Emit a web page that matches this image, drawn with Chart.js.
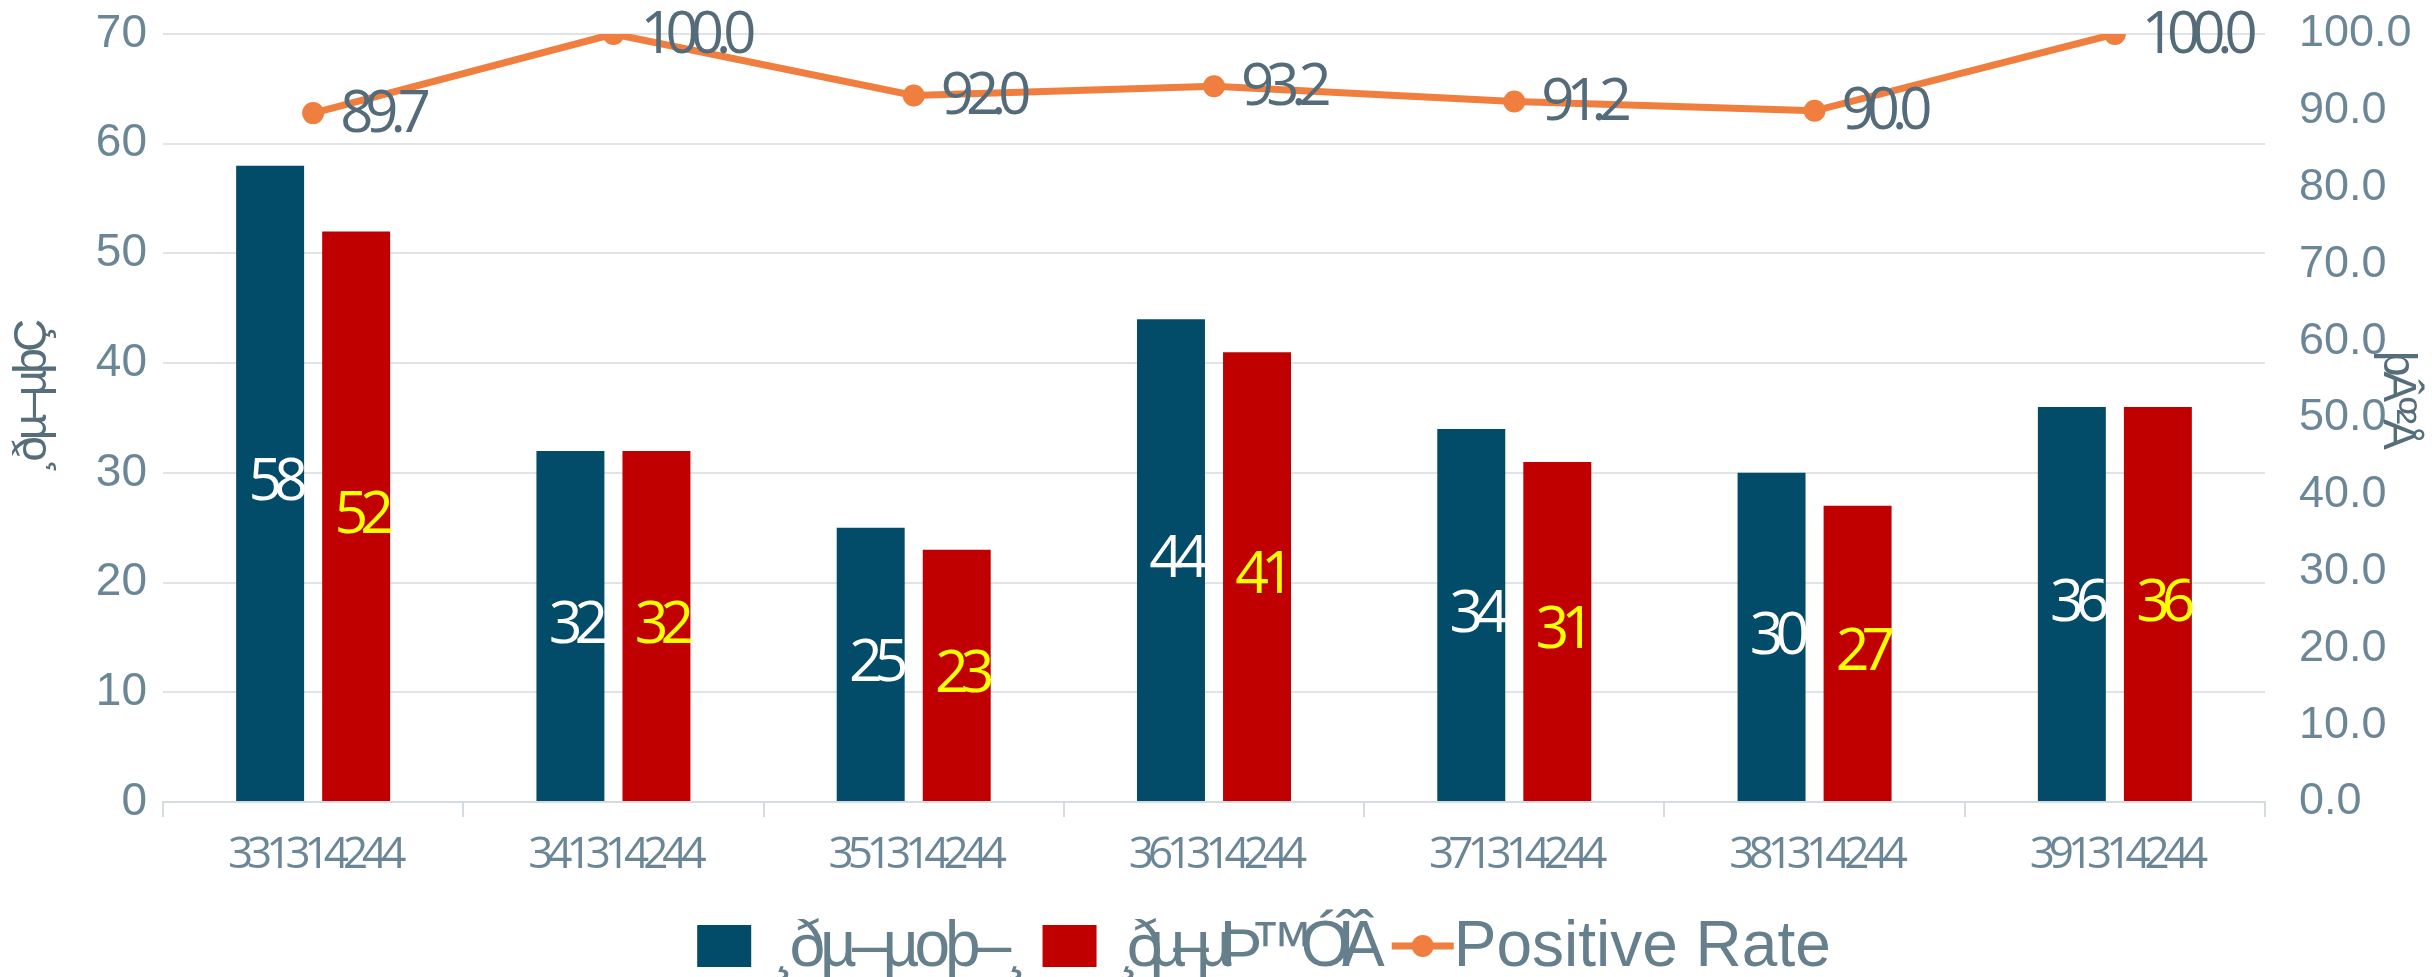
<!DOCTYPE html>
<html>
<head>
<meta charset="utf-8">
<script src="https://cdn.jsdelivr.net/npm/chart.js@4.4.1/dist/chart.umd.min.js"></script>
<style>
  html, body { margin: 0; padding: 0; background: #fff; }
  canvas { display: block; }
</style>
</head>
<body>
<canvas id="chart" width="2432" height="977"></canvas>
<script>
const categories = ['331314244', '341314244', '351314244', '361314244', '371314244', '381314244', '391314244'];
const firstSeries = [58, 32, 25, 44, 34, 30, 36];
const secondSeries = [52, 32, 23, 41, 31, 27, 36];
const positiveRate = [89.7, 100.0, 92.0, 93.2, 91.2, 90.0, 100.0];
const seriesNames = ['¸ðµ–µoþ–¸', '¸ðµ–µÞ™ÓÎÂ', 'Positive Rate'];
const leftTitle = '¸ðµ–µþÇ';
const rightTitle = 'þÂº²Å';

const BLUE = '#024B69';
const RED = '#C00000';
const ORANGE = '#F07E3F';
const TICK = '#6B8797';
const DARK = '#546C79';
const TITLE = '#566E7B';
const GRID = '#DEE4E8';

Chart.defaults.font.family = "'Liberation Sans', Arial, sans-serif";

// bar values in the middle of the bars, rates to the right of the points
const valueLabels = {
  id: 'valueLabels',
  afterDatasetsDraw(chart) {
    const ctx = chart.ctx;
    ctx.save();
    ctx.textBaseline = 'middle';
    [0, 1].forEach((di) => {
      const meta = chart.getDatasetMeta(di);
      ctx.font = "59px 'Open Sans'";
      ctx.letterSpacing = '-8px';
      ctx.textAlign = 'center';
      ctx.fillStyle = di === 0 ? '#FFFFFF' : '#FFFF00';
      meta.data.forEach((bar, i) => {
        const v = chart.data.datasets[di].data[i];
        ctx.fillText(String(v), bar.x + 4, (bar.y + bar.base) / 2);
      });
    });
    const lineMeta = chart.getDatasetMeta(2);
    ctx.font = "58px 'Open Sans'";
    ctx.letterSpacing = '-8px';
    ctx.textAlign = 'left';
    ctx.fillStyle = DARK;
    lineMeta.data.forEach((pt, i) => {
      ctx.fillText(positiveRate[i].toFixed(1), pt.x + 27, pt.y + 2);
    });
    ctx.restore();
  }
};

// category labels under the x axis, squeezed like the original
const categoryLabels = {
  id: 'categoryLabels',
  afterDraw(chart) {
    const ctx = chart.ctx;
    const x = chart.scales.x;
    ctx.save();
    ctx.font = "44px 'Open Sans'";
    ctx.letterSpacing = '-6px';
    ctx.fillStyle = TICK;
    ctx.textAlign = 'center';
    ctx.textBaseline = 'middle';
    categories.forEach((c, i) => ctx.fillText(c, x.getPixelForValue(i) + 1, x.top + 53));
    ctx.restore();
  }
};

// rotated axis titles
const axisTitles = {
  id: 'axisTitles',
  afterDraw(chart) {
    const ctx = chart.ctx;
    const a = chart.chartArea;
    const midY = (a.top + a.bottom) / 2 - 20;
    ctx.save();
    ctx.font = "46px 'Liberation Sans'";
    ctx.fillStyle = TITLE;
    ctx.textAlign = 'center';
    ctx.textBaseline = 'middle';

    ctx.save();
    ctx.translate(a.left - 130, midY);
    ctx.rotate(-Math.PI / 2);
    ctx.letterSpacing = '-4px';
    ctx.fillText(leftTitle, 0, 0);
    ctx.restore();

    ctx.save();
    ctx.translate(a.right + 132, midY);
    ctx.rotate(Math.PI / 2);
    ctx.letterSpacing = '-5px';
    ctx.fillText(rightTitle, 0, 0);
    ctx.restore();

    ctx.restore();
  }
};

// legend along the bottom
const bottomLegend = {
  id: 'bottomLegend',
  afterDraw(chart) {
    const ctx = chart.ctx;
    const y = chart.height - 31;
    const spacing = [-5, -13, 0];
    ctx.save();
    ctx.font = "64px 'Liberation Sans'";
    ctx.textBaseline = 'middle';
    ctx.textAlign = 'left';
    const items = chart.data.datasets.map((ds, i) => {
      ctx.letterSpacing = spacing[i] + 'px';
      const textW = ctx.measureText(ds.label).width;
      const isLine = ds.type === 'line';
      const markW = isLine ? 62 : 54;
      const gap = isLine ? 0 : 22;
      return { ds, textW, markW, gap, isLine, sp: spacing[i] };
    });
    const itemGap = 20;
    const total = items.reduce((s, it) => s + it.markW + it.gap + it.textW, 0) + itemGap * (items.length - 1);
    let x = chart.width / 2 + 48 - total / 2;
    items.forEach((it) => {
      if (it.isLine) {
        ctx.strokeStyle = it.ds.borderColor;
        ctx.lineWidth = 7;
        ctx.beginPath();
        ctx.moveTo(x, y);
        ctx.lineTo(x + it.markW, y);
        ctx.stroke();
        ctx.fillStyle = it.ds.borderColor;
        ctx.beginPath();
        ctx.arc(x + it.markW / 2, y, 11, 0, Math.PI * 2);
        ctx.fill();
      } else {
        ctx.fillStyle = it.ds.backgroundColor;
        ctx.fillRect(x, y - 21, it.markW, 42);
      }
      x += it.markW + it.gap;
      ctx.letterSpacing = it.sp + 'px';
      ctx.fillStyle = '#657F8D';
      ctx.fillText(it.ds.label, x, y + 2);
      x += it.textW + itemGap;
    });
    ctx.restore();
  }
};

new Chart(document.getElementById('chart'), {
  data: {
    labels: categories,
    datasets: [
      {
        type: 'bar',
        label: seriesNames[0],
        data: firstSeries,
        backgroundColor: BLUE,
        yAxisID: 'y',
        order: 1,
        barPercentage: 0.79,
        categoryPercentage: 0.573
      },
      {
        type: 'bar',
        label: seriesNames[1],
        data: secondSeries,
        backgroundColor: RED,
        yAxisID: 'y',
        order: 1,
        barPercentage: 0.79,
        categoryPercentage: 0.573
      },
      {
        type: 'line',
        label: seriesNames[2],
        data: positiveRate,
        borderColor: ORANGE,
        backgroundColor: ORANGE,
        borderWidth: 7,
        pointRadius: 11,
        pointBackgroundColor: ORANGE,
        pointBorderWidth: 0,
        tension: 0,
        yAxisID: 'y1',
        order: 0
      }
    ]
  },
  options: {
    responsive: false,
    animation: false,
    devicePixelRatio: 1,
    layout: { padding: { top: 34, left: 0, right: 0, bottom: 75 } },
    plugins: {
      tooltip: { enabled: false },
      legend: { display: false }
    },
    scales: {
      x: {
        offset: true,
        grid: {
          offset: true,
          drawOnChartArea: false,
          drawTicks: true,
          tickLength: 15,
          color: '#D5DCE1',
          lineWidth: 2
        },
        border: { color: '#D5DCE1', width: 2 },
        ticks: { display: false },
        afterFit(scale) { scale.height = 100; }
      },
      y: {
        position: 'left',
        min: 0,
        max: 70,
        ticks: { stepSize: 10, color: TICK, font: { size: 46 }, padding: 4 },
        grid: { color: GRID, lineWidth: 2, drawTicks: true, tickLength: 12, tickColor: 'rgba(0,0,0,0)' },
        border: { display: false },
        afterFit(scale) { scale.width = 163; }
      },
      y1: {
        position: 'right',
        min: 0,
        max: 100,
        ticks: {
          stepSize: 10,
          color: TICK,
          font: { size: 45 },
          padding: 4,
          callback: (v) => Number(v).toFixed(1)
        },
        grid: { drawOnChartArea: false, drawTicks: true, tickLength: 30, tickColor: 'rgba(0,0,0,0)' },
        border: { display: false },
        afterFit(scale) { scale.width = 167; }
      }
    }
  },
  plugins: [valueLabels, categoryLabels, axisTitles, bottomLegend]
});
</script>
</body>
</html>
